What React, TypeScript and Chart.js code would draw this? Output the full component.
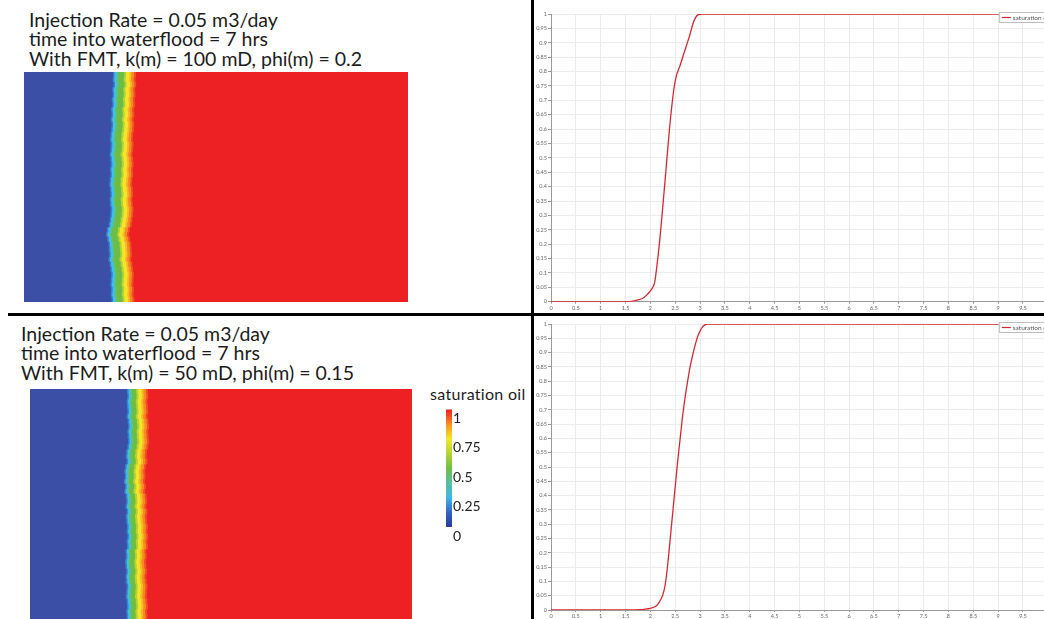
import React, { useEffect, useRef } from "react";
import { Chart, registerables } from "chart.js";
Chart.register(...registerables);

// ---------- text ----------
const titleTop = [
  "Injection Rate = 0.05 m3/day",
  "time into waterflood = 7 hrs",
  "With FMT, k(m) = 100 mD, phi(m) = 0.2",
];
const titleBottom = [
  "Injection Rate = 0.05 m3/day",
  "time into waterflood = 7 hrs",
  "With FMT, k(m) = 50 mD, phi(m) = 0.15",
];
const colorbarTitle = "saturation oil";
const colorbarTicks = [0, 0.25, 0.5, 0.75, 1];
const seriesLabel = "saturation oil";

// ---------- saturation fields (front position per row, % of field length) ----------
const topEdge = [
  23.1, 23.0, 23.2, 22.9, 23.0, 22.8, 22.9, 22.6, 22.7, 22.5, 22.7, 22.6, 22.4, 22.3, 22.5, 22.4,
  22.2, 22.4, 22.5, 22.3, 22.4, 22.2, 22.1, 22.3, 22.4, 22.2, 22.3, 22.5, 22.4, 22.2, 22.0, 21.5,
  21.3, 21.6, 21.9, 22.0, 22.1, 21.9, 22.2, 22.4, 22.6, 22.5, 22.4, 22.6, 22.5, 22.7,
];
const bottomEdge = [
  25.3, 25.4, 25.2, 25.3, 25.4, 25.2, 25.5, 25.6, 25.4, 25.5, 25.6, 25.4, 25.1, 25.0, 25.2, 24.8,
  24.6, 24.7, 24.5, 24.8, 24.6, 25.0, 25.1, 24.9, 25.2, 25.0, 25.1, 25.3, 25.2, 25.4, 25.2, 25.3,
  24.9, 25.0, 24.8, 24.9, 25.1, 24.9, 25.0, 25.2, 25.1, 25.0, 25.2, 25.3, 25.1, 25.2,
];
const bandColors = ["#3a7fd0", "#3cc0ec", "#5dc08a", "#6cbd45", "#b3d235", "#f2e62b", "#f8bb22", "#f58b21", "#f04e23"];
const topBandWidths = [0.4, 0.55, 0.4, 1.55, 0.5, 0.9, 0.5, 0.65, 0.5];
const bottomBandWidths = [0.4, 0.45, 0.4, 1.15, 0.52, 0.85, 0.52, 0.65, 0.52];
const SWEPT = "#3b4fa6";
const OIL = "#ed2024";

const colormapStops: [number, string][] = [
  [0, "#2a3a98"], [0.12, "#3263c2"], [0.25, "#3cb8e8"], [0.38, "#55c09a"], [0.5, "#70bf44"],
  [0.62, "#b4d334"], [0.75, "#f4e82a"], [0.87, "#f7941e"], [1, "#ec1c24"],
];

// ---------- saturation profiles ----------
const topX = [0, 0.5, 1, 1.5, 1.65, 1.75, 1.85, 1.92, 1.99, 2.05, 2.09, 2.13, 2.19, 2.25, 2.32, 2.39, 2.47, 2.53, 2.59, 2.66, 2.72, 2.79, 2.86, 2.9, 2.93, 2.97, 3.06, 3.5, 4, 5, 6, 7, 8, 9, 10];
const topY = [0, 0, 0, 0, 0.002, 0.006, 0.012, 0.022, 0.035, 0.05, 0.07, 0.122, 0.215, 0.33, 0.47, 0.61, 0.735, 0.79, 0.817, 0.855, 0.887, 0.925, 0.968, 0.984, 0.993, 0.998, 1, 1, 1, 1, 1, 1, 1, 1, 1];
const bottomX = [0, 0.5, 1, 1.5, 1.8, 1.9, 2.0, 2.1, 2.17, 2.25, 2.3, 2.35, 2.4, 2.45, 2.5, 2.55, 2.6, 2.65, 2.7, 2.75, 2.8, 2.85, 2.9, 2.95, 3.0, 3.05, 3.1, 3.15, 3.5, 4, 5, 6, 7, 8, 9, 10];
const bottomY = [0, 0, 0, 0, 0.001, 0.003, 0.006, 0.012, 0.025, 0.052, 0.09, 0.16, 0.25, 0.34, 0.43, 0.52, 0.6, 0.68, 0.745, 0.8, 0.85, 0.89, 0.925, 0.955, 0.975, 0.99, 0.997, 1, 1, 1, 1, 1, 1, 1, 1, 1];

const LINE_RED = "#d8262f";
const fmt = (v: any) => String(Math.round(Number(v) * 100) / 100);

function FieldChart(props: { edge: number[]; widths: number[]; left: number; top: number; width: number; height: number }) {
  const { edge, widths, left, top, width, height } = props;
  const ref = useRef<HTMLCanvasElement>(null);
  useEffect(() => {
    const total = widths.reduce((a, b) => a + b, 0);
    const base = { borderWidth: 0, barPercentage: 1, categoryPercentage: 1, borderSkipped: false as any };
    const datasets: any[] = [
      { ...base, data: edge, backgroundColor: SWEPT },
      ...widths.map((w, k) => ({ ...base, data: edge.map(() => w), backgroundColor: bandColors[k] })),
      { ...base, data: edge.map((e) => 100 - e - total), backgroundColor: OIL },
    ];
    const chart = new Chart(ref.current!, {
      type: "bar",
      data: { labels: edge.map((_, i) => String(i)), datasets },
      options: {
        indexAxis: "y",
        responsive: false,
        animation: false,
        events: [],
        layout: { padding: 0 },
        plugins: { legend: { display: false }, tooltip: { enabled: false } },
        scales: {
          x: { display: false, stacked: true, min: 0, max: 100 },
          y: { display: false, stacked: true },
        },
      },
    });
    return () => chart.destroy();
  }, []);
  return <canvas ref={ref} width={width} height={height} style={{ position: "absolute", left, top, width, height }} />;
}

function ColorBar() {
  const ref = useRef<HTMLCanvasElement>(null);
  useEffect(() => {
    const chart = new Chart(ref.current!, {
      type: "bar",
      data: {
        labels: ["s"],
        datasets: [
          {
            data: [1],
            borderWidth: 0,
            barPercentage: 1,
            categoryPercentage: 1,
            backgroundColor: (ctx: any) => {
              const a = ctx.chart.chartArea;
              if (!a) return OIL;
              const g = ctx.chart.ctx.createLinearGradient(0, a.bottom, 0, a.top);
              colormapStops.forEach(([p, c]) => g.addColorStop(p, c));
              return g;
            },
          },
        ],
      },
      options: {
        responsive: false,
        animation: false,
        events: [],
        layout: { padding: { top: 8, bottom: 19, left: 0, right: 0 } },
        plugins: { legend: { display: false }, tooltip: { enabled: false } },
        scales: {
          x: { display: false },
          y: {
            position: "right",
            min: 0,
            max: 1,
            afterBuildTicks: (s: any) => {
              s.ticks = colorbarTicks.map((v) => ({ value: v }));
            },
            afterFit: (s: any) => {
              s.width = 34;
            },
            grid: { display: false, drawTicks: false },
            border: { display: false },
            ticks: { font: { size: 14, family: "Lato" }, color: "#222", padding: 1, labelOffset: 9, callback: fmt },
          },
        },
      },
    });
    return () => chart.destroy();
  }, []);
  return <canvas ref={ref} width={40} height={146} style={{ position: "absolute", left: 446, top: 400, width: 40, height: 146 }} />;
}

const boxLegend = {
  id: "boxLegend",
  afterDraw(chart: any) {
    const { ctx, chartArea } = chart;
    const ds = chart.data.datasets[0];
    const x = chartArea.right - 49;
    const y = chartArea.top - 2;
    ctx.save();
    ctx.fillStyle = "#fff";
    ctx.fillRect(x, y, 60, 11);
    ctx.strokeStyle = "#bdbdbd";
    ctx.lineWidth = 1;
    ctx.strokeRect(x + 0.5, y + 0.5, 60, 10);
    ctx.strokeStyle = ds.borderColor;
    ctx.lineWidth = 1.2;
    ctx.beginPath();
    ctx.moveTo(x + 3, y + 5.5);
    ctx.lineTo(x + 12, y + 5.5);
    ctx.stroke();
    ctx.fillStyle = "#555";
    ctx.font = "6.5px Lato";
    ctx.textBaseline = "middle";
    ctx.fillText(ds.label, x + 14, y + 6);
    ctx.restore();
  },
};

function ProfileChart(props: { xs: number[]; ys: number[]; top: number; height: number; padTop: number; axisH: number }) {
  const { xs, ys, top, height, padTop, axisH } = props;
  const ref = useRef<HTMLCanvasElement>(null);
  useEffect(() => {
    const chart = new Chart(ref.current!, {
      type: "line",
      data: {
        datasets: [
          {
            label: seriesLabel,
            data: xs.map((x, i) => ({ x, y: ys[i] })),
            borderColor: LINE_RED,
            borderWidth: 1.3,
            pointRadius: 0,
            tension: 0.2,
            fill: false,
          },
        ],
      },
      options: {
        responsive: false,
        animation: false,
        events: [],
        layout: { padding: { top: padTop, right: 3, left: 0, bottom: 0 } },
        plugins: { legend: { display: false }, tooltip: { enabled: false } },
        scales: {
          x: {
            type: "linear",
            min: 0,
            max: 10,
            afterFit: (s: any) => {
              s.height = axisH;
            },
            grid: { color: "#ececec", tickColor: "#999", tickLength: 2 },
            border: { color: "#999" },
            ticks: { stepSize: 0.5, font: { size: 5.5, family: "Lato" }, color: "#666", padding: 1, maxRotation: 0, autoSkip: false, callback: fmt },
          },
          y: {
            min: 0,
            max: 1,
            afterFit: (s: any) => {
              s.width = 17;
            },
            grid: { color: "#ececec", tickColor: "#999", tickLength: 3 },
            border: { color: "#999" },
            ticks: { stepSize: 0.05, font: { size: 5.5, family: "Lato" }, color: "#666", padding: 1, autoSkip: false, callback: fmt },
          },
        },
      },
      plugins: [boxLegend],
    });
    return () => chart.destroy();
  }, []);
  return <canvas ref={ref} width={518} height={height} style={{ position: "absolute", left: 534, top, width: 518, height }} />;
}

function Title({ lines, left, top }: { lines: string[]; left: number; top: number }) {
  return (
    <div style={{ position: "absolute", left, top, font: "19.5px Lato", lineHeight: "19.4px", color: "#1c1c1c", whiteSpace: "pre" }}>
      {lines.map((l, i) => (
        <div key={i}>{l}</div>
      ))}
    </div>
  );
}

export default function App() {
  return (
    <div style={{ position: "fixed", left: 0, top: 0, width: 1044, height: 619, overflow: "hidden", background: "#fff" }}>
      <Title lines={titleTop} left={29} top={10} />
      <Title lines={titleBottom} left={21} top={324} />
      <FieldChart edge={topEdge} widths={topBandWidths} left={24} top={72} width={384} height={230} />
      <FieldChart edge={bottomEdge} widths={bottomBandWidths} left={30} top={389} width={382} height={230} />
      <div style={{ position: "absolute", left: 430, top: 386, font: "16px Lato", lineHeight: "16px", color: "#1c1c1c", whiteSpace: "pre", letterSpacing: "0.3px" }}>
        {colorbarTitle}
      </div>
      <ColorBar />
      <ProfileChart xs={topX} ys={topY} top={0} height={313} padTop={14} axisH={11.3} />
      <ProfileChart xs={bottomX} ys={bottomY} top={316} height={303} padTop={8} axisH={9} />
      <div style={{ position: "absolute", left: 531, top: 0, width: 3, height: 619, background: "#000" }} />
      <div style={{ position: "absolute", left: 8, top: 313, width: 1036, height: 3, background: "#000" }} />
    </div>
  );
}
